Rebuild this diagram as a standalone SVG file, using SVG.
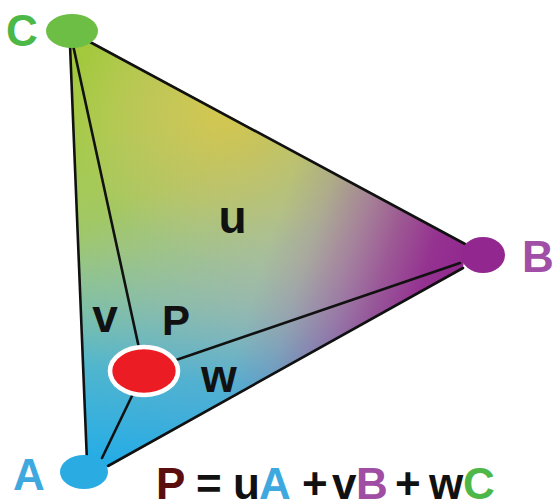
<svg xmlns="http://www.w3.org/2000/svg" width="555" height="500" viewBox="0 0 555 500">
  <style>
    .lbl { font-family: "Liberation Sans", Arial, sans-serif; font-weight: bold; }
    .edge { stroke: #111; stroke-width: 2.6; fill: none; stroke-linecap: round; }
  </style>
  <defs>
    <linearGradient id="gC" gradientUnits="userSpaceOnUse" x1="70" y1="40" x2="254" y2="374">
      <stop offset="0" stop-color="#a2c83a" stop-opacity="1"/>
      <stop offset="0.45" stop-color="#a8cc52" stop-opacity="0.92"/>
      <stop offset="0.62" stop-color="#a4ce70" stop-opacity="0.74"/>
      <stop offset="0.76" stop-color="#a4ce80" stop-opacity="0.48"/>
      <stop offset="0.9" stop-color="#a4ce80" stop-opacity="0.16"/>
      <stop offset="1" stop-color="#a4ce80" stop-opacity="0"/>
    </linearGradient>
    <linearGradient id="gA" gradientUnits="userSpaceOnUse" x1="88" y1="465" x2="120" y2="125">
      <stop offset="0" stop-color="#1eb0ea" stop-opacity="1"/>
      <stop offset="0.28" stop-color="#22b2e6" stop-opacity="0.72"/>
      <stop offset="0.4" stop-color="#30b4e0" stop-opacity="0.5"/>
      <stop offset="0.5" stop-color="#40b4dc" stop-opacity="0.34"/>
      <stop offset="0.65" stop-color="#50b4d8" stop-opacity="0.15"/>
      <stop offset="0.8" stop-color="#50b4d8" stop-opacity="0.04"/>
      <stop offset="1" stop-color="#50b4d8" stop-opacity="0"/>
    </linearGradient>
    <linearGradient id="gB" gradientUnits="userSpaceOnUse" x1="97" y1="140" x2="470" y2="255">
      <stop offset="0" stop-color="#92278f" stop-opacity="0"/>
      <stop offset="0.5" stop-color="#9a4a9a" stop-opacity="0.06"/>
      <stop offset="0.6" stop-color="#9a4a9a" stop-opacity="0.22"/>
      <stop offset="0.66" stop-color="#984098" stop-opacity="0.37"/>
      <stop offset="0.72" stop-color="#963a98" stop-opacity="0.52"/>
      <stop offset="0.8" stop-color="#92308f" stop-opacity="0.72"/>
      <stop offset="0.9" stop-color="#92278f" stop-opacity="0.92"/>
      <stop offset="1" stop-color="#92278f" stop-opacity="1"/>
    </linearGradient>
    <radialGradient id="gY" gradientUnits="userSpaceOnUse" cx="225" cy="110" r="150">
      <stop offset="0" stop-color="#dccc4c" stop-opacity="0.9"/>
      <stop offset="0.5" stop-color="#d8c860" stop-opacity="0.5"/>
      <stop offset="1" stop-color="#d8c870" stop-opacity="0"/>
    </radialGradient>
  </defs>

  <g id="triangle">
    <polygon points="70,44 92,42 466,244 463,268 108,467 87,462" fill="#cac2a4"/>
    <polygon points="70,44 92,42 466,244 463,268 108,467 87,462" fill="url(#gC)"/>
    <polygon points="70,44 92,42 466,244 463,268 108,467 87,462" fill="url(#gY)"/>
    <polygon points="70,44 92,42 466,244 463,268 108,467 87,462" fill="url(#gA)"/>
    <polygon points="70,44 92,42 466,244 463,268 108,467 87,462" fill="url(#gB)"/>
  </g>

  <g id="connectors">
    <line class="edge" x1="70" y1="45" x2="87" y2="462"/>
    <line class="edge" x1="90" y1="42" x2="465" y2="244"/>
    <line class="edge" x1="108" y1="466" x2="463" y2="268"/>
    <line class="edge" x1="73" y1="45" x2="144" y2="371"/>
    <line class="edge" x1="144" y1="371" x2="460" y2="263"/>
    <line class="edge" x1="144" y1="371" x2="102" y2="458"/>
  </g>

  <g id="node-C">
    <ellipse cx="72" cy="31" rx="26" ry="17" fill="#6cbe45"/>
    <text class="lbl" x="6" y="46" font-size="44" fill="#4cb848">C</text>
  </g>
  <g id="node-B">
    <ellipse cx="483" cy="255" rx="22" ry="18" fill="#92278f"/>
    <text class="lbl" x="522" y="272" font-size="44" fill="#a14ea6">B</text>
  </g>
  <g id="node-A">
    <ellipse cx="84" cy="472" rx="24" ry="17" fill="#2aabe2"/>
    <text class="lbl" x="13" y="490" font-size="44" fill="#3fa9df">A</text>
  </g>
  <g id="node-P">
    <ellipse cx="144" cy="371" rx="34" ry="24" fill="#ec1c24" stroke="#ffffff" stroke-width="4.6"/>
    <text class="lbl" x="176" y="335" font-size="42" fill="#111" text-anchor="middle">P</text>
  </g>

  <g id="labels">
    <text class="lbl" x="232.5" y="233" font-size="46" fill="#111" text-anchor="middle">u</text>
    <text class="lbl" x="105" y="332" font-size="46" fill="#111" text-anchor="middle">v</text>
    <text class="lbl" x="219" y="392" font-size="46" fill="#111" text-anchor="middle">w</text>
  </g>

  <g id="formula">
    <text class="lbl" y="499" font-size="44" fill="#111"><tspan x="156" fill="#5c0d0e">P</tspan><tspan x="196">=</tspan><tspan x="233">u</tspan><tspan x="259" fill="#3fa9df">A</tspan><tspan x="302">+</tspan><tspan x="332">v</tspan><tspan x="356" fill="#9f4ea3">B</tspan><tspan x="395">+</tspan><tspan x="429">w</tspan><tspan x="463" fill="#4db848">C</tspan></text>
  </g>
</svg>
